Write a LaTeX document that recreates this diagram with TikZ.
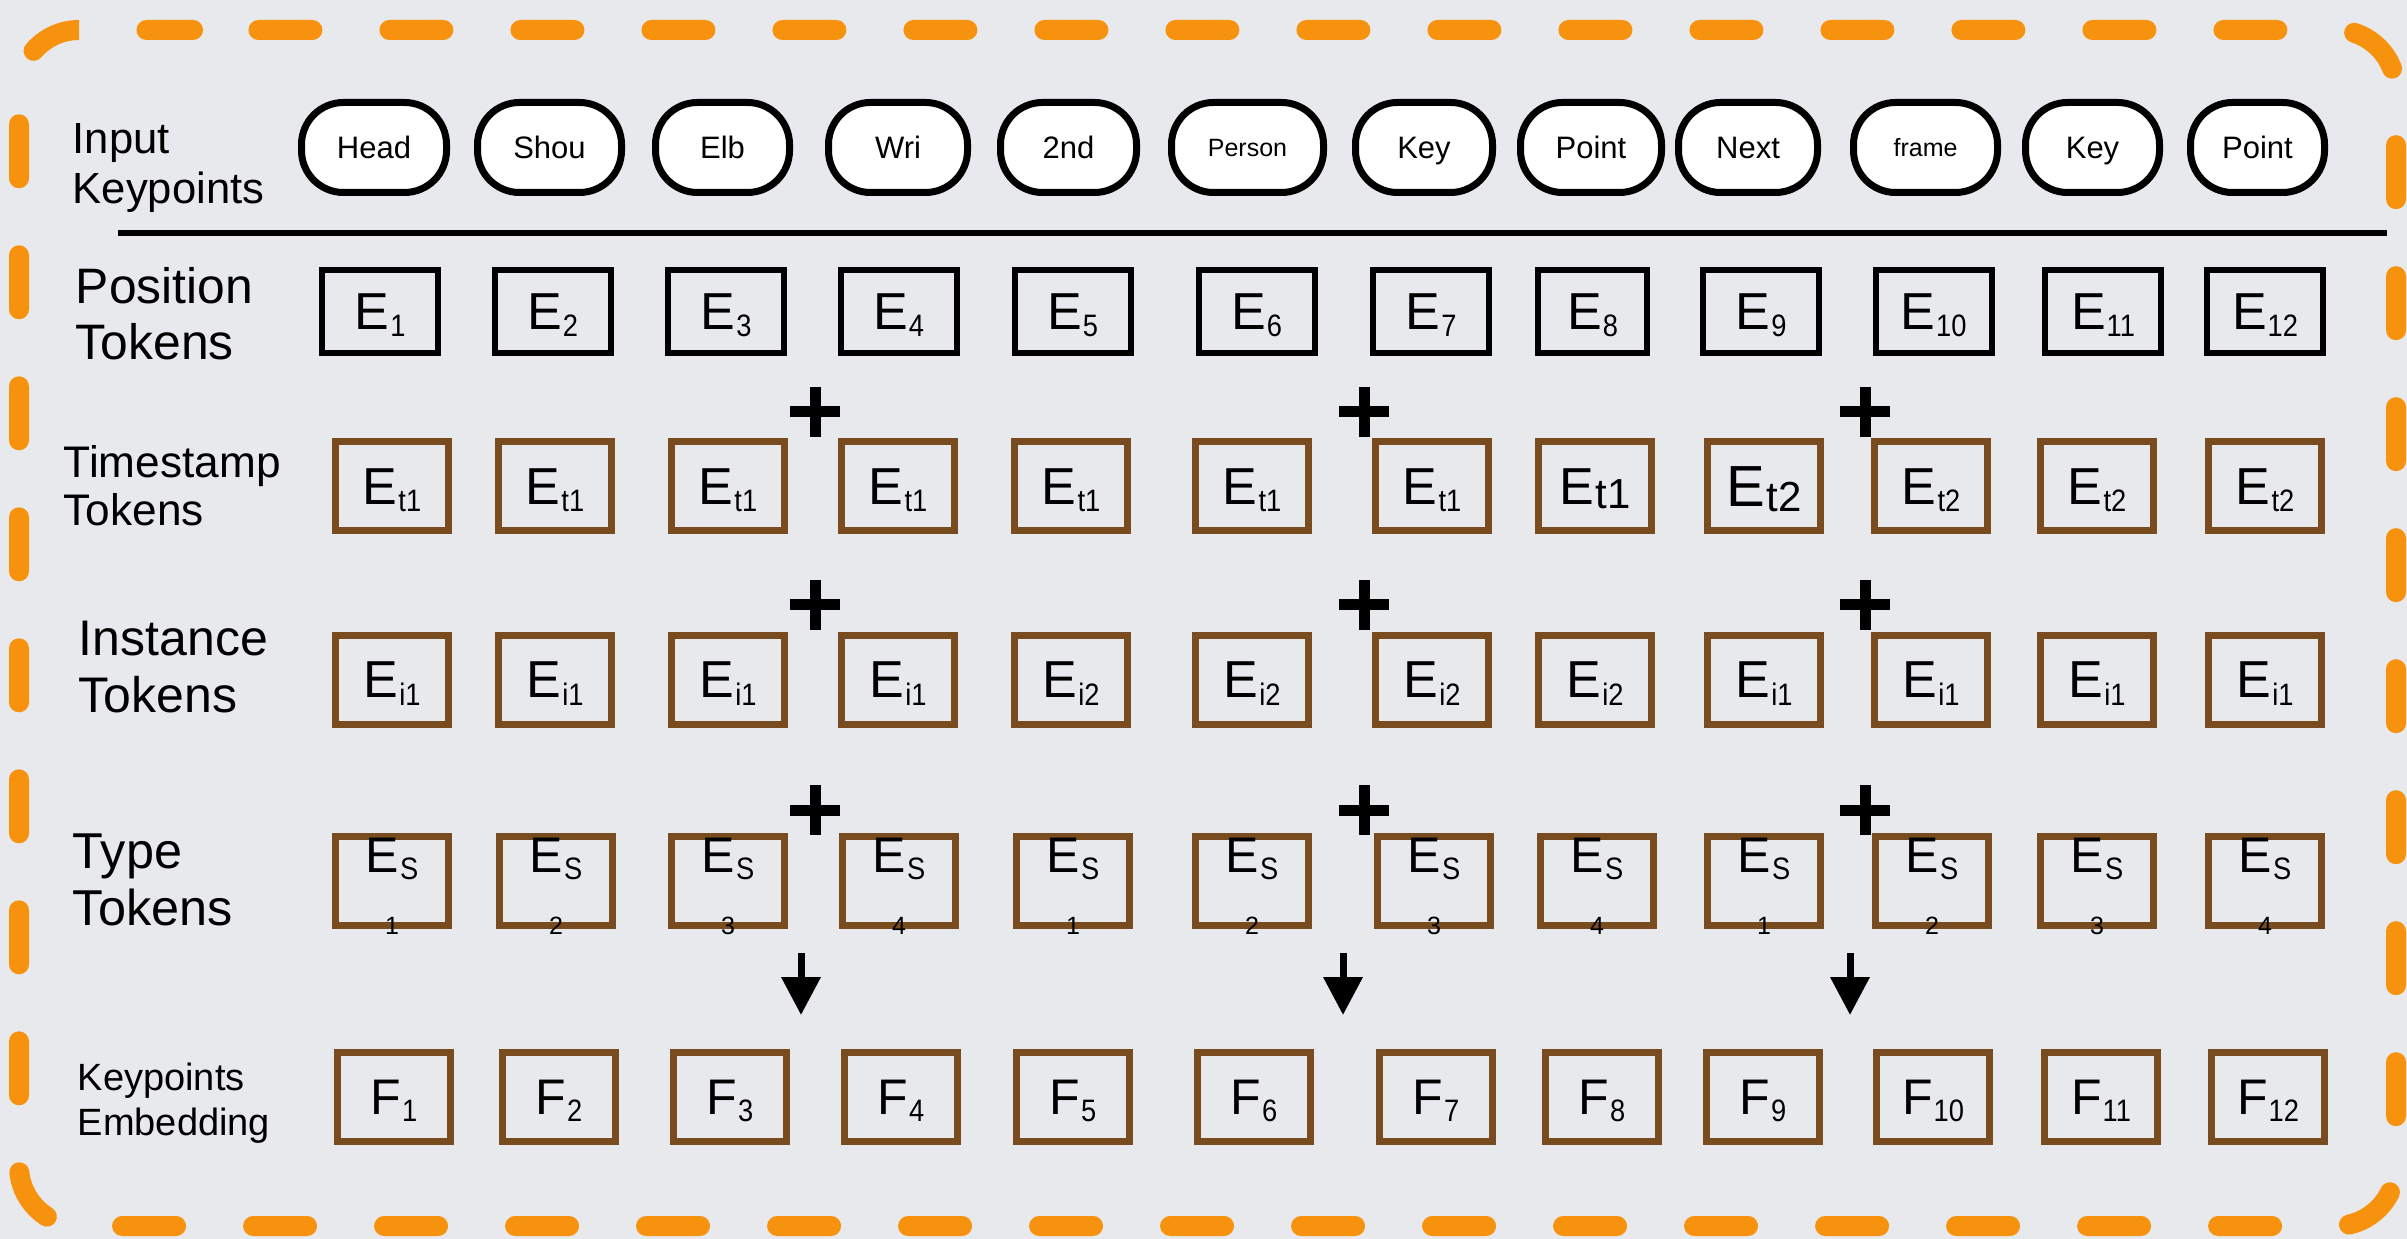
\documentclass[tikz,border=0pt]{standalone}
\usepackage{fontspec}
\setmainfont{Liberation Sans}
\usetikzlibrary{arrows.meta,calc}
\definecolor{bordorange}{RGB}{246,146,14}
\definecolor{tokbrown}{RGB}{120,76,30}
\definecolor{bggray}{RGB}{232,233,236}
\newcommand\sbx[2]{#1\kern0.02em\raisebox{-0.14em}{\fontsize{7.75}{8}\selectfont\scalebox{0.88}[1]{#2}}}
\newcommand\sbxL[2]{#1\kern0.02em\raisebox{-0.08em}{\fontsize{10.5}{11}\selectfont #2}}
\begin{document}
\begin{tikzpicture}[x=0.25pt,y=-0.25pt,
  lab/.style={anchor=north west, align=left, inner sep=0pt},
  pill/.style={draw=black, line width=1.75pt, fill=white, rounded corners=10.5pt,
    minimum height=22.5pt, minimum width=#1*0.25pt, inner sep=0pt, text depth=0pt,
    font=\fontsize{7.75}{9}\selectfont},
  pillsmall/.style={font=\fontsize{6.25}{7}\selectfont},
  posbox/.style={draw=black, line width=1.5pt, minimum width=29pt, minimum height=20.75pt,
    inner sep=0pt, text depth=0pt, font=\fontsize{13}{14}\selectfont},
  tokbox/.style={draw=tokbrown, line width=1.75pt, minimum width=28.25pt, minimum height=22.25pt,
    inner sep=0pt, text depth=0pt, font=\fontsize{13}{14}\selectfont},
  typetext/.style={anchor=north, inner sep=0pt, font=\fontsize{12.5}{13}\selectfont},
  typedigit/.style={inner sep=0pt, text depth=0pt, font=\fontsize{6.25}{7}\selectfont},
  plusmark/.style={line width=2.75pt},
  flowarrow/.style={line width=1.75pt, -{Triangle[width=9.5pt,length=9.5pt]}},
  border/.style={draw=bordorange, line width=5pt, line cap=round, rounded corners=15pt,
    dash pattern=on 13.5pt off 19.25pt, dash phase=16.4pt}
]
\fill[bggray] (0,0) rectangle (2407,1239);
\useasboundingbox (0,0) rectangle (2407,1239);

% dashed frame
\draw[border] (133,30) -- (2396,30) -- (2396,1226) -- (19,1226) -- (19,30) -- cycle;

% row labels
\node[lab, font=\fontsize{10.9}{12.5}\selectfont] (lInput) at (72,123) {Input\\Keypoints};
\node[lab, font=\fontsize{12.45}{14}\selectfont] (lPos) at (75,267) {Position\\Tokens};
\node[lab, font=\fontsize{11.05}{12}\selectfont] (lTime) at (63,445) {Timestamp\\Tokens};
\node[lab, font=\fontsize{12.5}{14.25}\selectfont] (lInst) at (78,620) {Instance\\Tokens};
\node[lab, font=\fontsize{12.6}{14.25}\selectfont] (lType) at (72,833) {Type\\Tokens};
\node[lab, font=\fontsize{9.5}{11.25}\selectfont] (lEmb) at (77,1062) {Keypoints\\Embedding};

% separator line
\coordinate (sepL) at (118,233);
\coordinate (sepR) at (2387,233);
\draw[line width=1.5pt] (sepL) -- (sepR);

% input keypoint pills
\node[pill=145] (k1) at (374,147.5) {Head};
\node[pill=144] (k2) at (549.5,147.5) {Shou};
\node[pill=134] (k3) at (722.5,147.5) {Elb};
\node[pill=139] (k4) at (898,147.5) {Wri};
\node[pill=136] (k5) at (1068.5,147.5) {2nd};
\node[pill=152, pillsmall] (k6) at (1247.5,147.5) {Person};
\node[pill=137] (k7) at (1424,147.5) {Key};
\node[pill=141] (k8) at (1591,147.5) {Point};
\node[pill=139] (k9) at (1748,147.5) {Next};
\node[pill=144, pillsmall] (k10) at (1925.5,147.5) {frame};
\node[pill=134] (k11) at (2092.5,147.5) {Key};
\node[pill=134] (k12) at (2257.5,147.5) {Point};

% position tokens
\foreach \i/\x in {1/380,2/552.5,3/726,4/898.5,5/1072.5,6/1256.5,7/1431,9/1761,10/1933.5,11/2103,12/2265}
  \node[posbox] (p\i) at (\x,311.5) {\sbx{E}{\i}};
\node[posbox, minimum width=27.25pt] (p8) at (1592.5,311.5) {\sbx{E}{8}};

% timestamp tokens
\foreach \i/\x/\s in {1/392/t1,2/555/t1,3/728/t1,4/898/t1,5/1071/t1,6/1252/t1,7/1432/t1,10/1931/t2,11/2097/t2,12/2265/t2}
  \node[tokbox] (t\i) at (\x,486.5) {\sbx{E}{\s}};
\node[tokbox] (t8) at (1595,486.5) {\sbxL{E}{t1}};
\node[tokbox, font=\fontsize{14.5}{15}\selectfont] (t9) at (1764,486.5) {\sbxL{E}{t2}};

% instance tokens
\foreach \i/\x/\s in {1/392/i1,2/555/i1,3/728/i1,4/898/i1,5/1071/i2,6/1252/i2,7/1432/i2,8/1595/i2,9/1764/i1,10/1931/i1,11/2097/i1,12/2265/i1}
  \node[tokbox] (n\i) at (\x,680) {\sbx{E}{\s}};

% type tokens
\foreach \i/\x/\d in {1/392/1,2/556/2,3/728/3,4/899/4,5/1073/1,6/1252/2,7/1434/3,8/1597/4,9/1764/1,10/1932/2,11/2097/3,12/2265/4} {
  \node[tokbox] (y\i) at (\x,881) {};
  \node[typetext] (yE\i) at ($(y\i.north)+(0,4)$) {\sbx{E}{S}};
  \node[typedigit] (yD\i) at ($(y\i.south)+(0,-3)$) {\d};
}

% keypoint embeddings
\foreach \i/\x in {1/394,2/559,3/730,4/901,5/1073,6/1254,7/1436,8/1602,9/1763,10/1933,11/2101,12/2268}
  \node[tokbox, font=\fontsize{12.5}{13}\selectfont] (f\i) at (\x,1097) {\sbx{F}{\i}};

% plus signs
\foreach \px in {815,1364,1865}
  \foreach \py in {412,605,810}
    \draw[plusmark] (\px-25,\py) -- (\px+25,\py) (\px,\py-25) -- (\px,\py+25);

% arrows
\foreach \j/\ax in {1/801,2/1343,3/1850} {
  \coordinate (as\j) at (\ax,953);
  \coordinate (ae\j) at (\ax,1015);
  \draw[flowarrow] (as\j) -- (ae\j);
}
\end{tikzpicture}
\end{document}
